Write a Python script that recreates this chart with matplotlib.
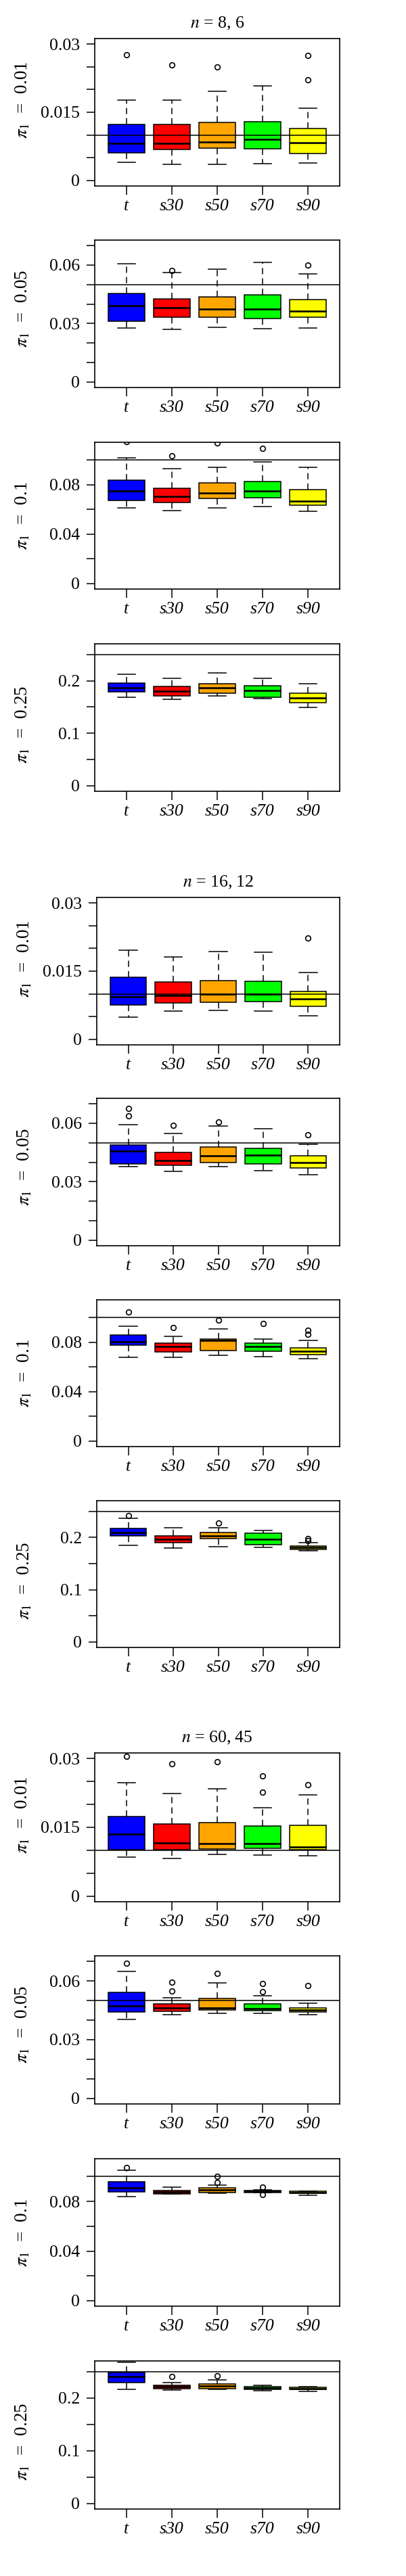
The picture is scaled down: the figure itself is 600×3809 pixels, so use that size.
import matplotlib
matplotlib.use('Agg')
import matplotlib.pyplot as plt

plt.rcParams['font.family'] = ['Liberation Serif', 'DejaVu Serif']
plt.rcParams['mathtext.fontset'] = 'stix'

# 방법 이름과 색상
methods = ['t', 's30', 's50', 's70', 's90']
box_colors = ['#0000FF', '#FF0000', '#FFA500', '#00FF00', '#FFFF00']

# 각 행: 방법 (t, s30, s50, s70, s90)
# 각 열: 아래 수염, Q1, 중앙값, Q3, 위 수염
box_n8_p01 = [[0.00405, 0.00603, 0.00816, 0.01226, 0.01774],
              [0.00361, 0.00682, 0.00816, 0.01236, 0.01774],
              [0.00361, 0.00712, 0.00845, 0.01270, 0.01962],
              [0.00366, 0.00692, 0.00909, 0.01285, 0.02081],
              [0.00390, 0.00598, 0.00835, 0.01147, 0.01591]]
out_n8_p01 = [[0.0276], [0.0254], [0.0250], [], [0.0275, 0.0222]]

box_n8_p05 = [[0.0277, 0.0312, 0.0391, 0.0453, 0.0607],
              [0.0269, 0.0331, 0.0380, 0.0425, 0.0560],
              [0.0282, 0.0333, 0.0375, 0.0438, 0.0578],
              [0.0275, 0.0324, 0.0375, 0.0446, 0.0613],
              [0.0276, 0.0331, 0.0364, 0.0422, 0.0554]]
out_n8_p05 = [[], [0.0571], [], [], [0.0599]]

box_n8_p10 = [[0.0611, 0.0675, 0.0749, 0.0835, 0.1018],
              [0.0591, 0.0656, 0.0704, 0.0769, 0.0929],
              [0.0615, 0.0691, 0.0735, 0.0813, 0.0944],
              [0.0624, 0.0696, 0.0749, 0.0827, 0.0985],
              [0.0584, 0.0635, 0.0669, 0.0762, 0.0942]]
out_n8_p10 = [[0.1148], [0.1036], [0.1138], [0.1095], []]

box_n8_p25 = [[0.1691, 0.1785, 0.1871, 0.1957, 0.2129],
              [0.1644, 0.1712, 0.1798, 0.1893, 0.2052],
              [0.1708, 0.1760, 0.1871, 0.1940, 0.2150],
              [0.1657, 0.1691, 0.1815, 0.1906, 0.2052],
              [0.1494, 0.1579, 0.1674, 0.1760, 0.1948]]
out_n8_p25 = [[], [], [], [], []]

box_n16_p01 = [[0.00482, 0.00755, 0.00934, 0.01371, 0.01962],
               [0.00626, 0.00805, 0.00964, 0.01257, 0.01808],
               [0.00636, 0.00815, 0.00993, 0.01286, 0.01937],
               [0.00616, 0.00834, 0.00993, 0.01277, 0.01912],
               [0.00512, 0.00725, 0.00889, 0.01048, 0.01465]]
out_n16_p01 = [[], [], [], [], [0.02235]]

box_n16_p05 = [[0.0377, 0.0393, 0.0456, 0.0489, 0.0593],
               [0.0355, 0.0383, 0.0408, 0.0451, 0.0547],
               [0.0377, 0.0397, 0.0434, 0.0478, 0.0585],
               [0.0357, 0.0392, 0.0435, 0.0470, 0.0572],
               [0.0337, 0.0371, 0.0399, 0.0432, 0.0492]]
out_n16_p05 = [[0.0677, 0.0639], [0.0590], [0.0608], [], [0.0541]]

box_n16_p10 = [[0.0679, 0.0776, 0.0802, 0.0857, 0.0930],
               [0.0676, 0.0720, 0.0765, 0.0791, 0.0851],
               [0.0694, 0.0736, 0.0815, 0.0829, 0.0906],
               [0.0685, 0.0727, 0.0765, 0.0791, 0.0827],
               [0.0668, 0.0700, 0.0727, 0.0758, 0.0815]]
out_n16_p10 = [[0.1043], [0.0919], [0.0979], [0.0950], [0.0900, 0.0864]]

box_n16_p25 = [[0.1845, 0.2030, 0.2095, 0.2176, 0.2366],
               [0.1794, 0.1905, 0.1961, 0.2034, 0.2185],
               [0.1819, 0.1974, 0.2034, 0.2095, 0.2189],
               [0.1811, 0.1867, 0.1970, 0.2077, 0.2133],
               [0.1746, 0.1776, 0.1815, 0.1841, 0.1905]]
out_n16_p25 = [[0.2422], [], [0.2271], [], [0.1974, 0.1940]]

box_n60_p01 = [[0.00859, 0.01021, 0.01352, 0.01732, 0.02472],
               [0.00824, 0.01012, 0.01164, 0.01574, 0.02240],
               [0.00918, 0.01031, 0.01150, 0.01609, 0.02344],
               [0.00893, 0.01041, 0.01150, 0.01525, 0.01929],
               [0.00883, 0.01021, 0.01071, 0.01540, 0.02201]]
out_n60_p01 = [[0.03044], [0.02877], [0.02926], [0.02625, 0.02265], [0.02428]]

box_n60_p05 = [[0.0404, 0.0441, 0.0472, 0.0540, 0.0647],
               [0.0426, 0.0446, 0.0463, 0.0483, 0.0514],
               [0.0433, 0.0451, 0.0463, 0.0509, 0.0590],
               [0.0435, 0.0447, 0.0458, 0.0483, 0.0526],
               [0.0428, 0.0440, 0.0453, 0.0463, 0.0485]]
out_n60_p05 = [[0.0689], [0.0594, 0.0550], [0.0637], [0.0585, 0.0545], [0.0576]]

box_n60_p10 = [[0.0840, 0.0878, 0.0907, 0.0956, 0.1053],
               [0.0858, 0.0863, 0.0878, 0.0890, 0.0914],
               [0.0867, 0.0874, 0.0892, 0.0907, 0.0934],
               [0.0871, 0.0874, 0.0883, 0.0890, 0.0894],
               [0.0852, 0.0865, 0.0874, 0.0881, 0.0883]]
out_n60_p10 = [[0.1071], [], [0.1003, 0.0952], [0.0916, 0.0854], []]

box_n60_p25 = [[0.2171, 0.2296, 0.2411, 0.2488, 0.2672],
               [0.2158, 0.2176, 0.2214, 0.2240, 0.2300],
               [0.2163, 0.2180, 0.2227, 0.2270, 0.2343],
               [0.2146, 0.2171, 0.2197, 0.2223, 0.2244],
               [0.2128, 0.2163, 0.2180, 0.2201, 0.2214]]
out_n60_p25 = [[], [0.2407], [0.2428], [], []]

# π1 값별 축 설정: 참값, 축 상한, 눈금 간격, 마지막 눈금, 라벨 붙는 눈금
pi_values = [0.01, 0.05, 0.1, 0.25]
y_tops = [0.03, 0.07, 0.11, 0.26]
y_steps = [0.005, 0.01, 0.02, 0.05]
y_last = [0.03, 0.07, 0.10, 0.25]
y_labels = [['0', '0.015', '0.03'], ['0', '0.03', '0.06'],
            ['0', '0.04', '0.08'], ['0', '0.1', '0.2']]

group_titles = ['8, 6', '16, 12', '60, 45']
group_boxes = [[box_n8_p01, box_n8_p05, box_n8_p10, box_n8_p25],
               [box_n16_p01, box_n16_p05, box_n16_p10, box_n16_p25],
               [box_n60_p01, box_n60_p05, box_n60_p10, box_n60_p25]]
group_outs = [[out_n8_p01, out_n8_p05, out_n8_p10, out_n8_p25],
              [out_n16_p01, out_n16_p05, out_n16_p10, out_n16_p25],
              [out_n60_p01, out_n60_p05, out_n60_p10, out_n60_p25]]

# 레이아웃 (픽셀)
W, H = 600, 3809
axes_px = [[(57, 275), (355, 573), (654, 871), (952, 1170)],
           [(1327, 1545), (1624, 1842), (1922, 2139), (2219, 2436)],
           [(2592, 2812), (2892, 3111), (3192, 3410), (3491, 3710)]]
axes_left = [140, 143, 140]
axes_right = 502
label_shift = [18, 8, 0, -10]

fig = plt.figure(figsize=(W / 100, H / 100), dpi=100)

for g in range(3):
    for p in range(4):
        top, bot = axes_px[g][p]
        ax = fig.add_axes([axes_left[g] / W, 1 - bot / H,
                           (axes_right - axes_left[g]) / W, (bot - top) / H])
        stats = []
        for i, row in enumerate(group_boxes[g][p]):
            stats.append(dict(whislo=row[0], q1=row[1], med=row[2], q3=row[3],
                              whishi=row[4], fliers=group_outs[g][p][i]))
        bp = ax.bxp(stats, positions=range(1, 6), widths=0.8, capwidths=0.4,
                    patch_artist=True, showfliers=True,
                    boxprops=dict(edgecolor='black', linewidth=1.1),
                    medianprops=dict(color='black', linewidth=1.9),
                    whiskerprops=dict(color='black', linewidth=1.1, linestyle=(0, (6, 4))),
                    capprops=dict(color='black', linewidth=1.1),
                    flierprops=dict(marker='o', markerfacecolor='none',
                                    markeredgecolor='black', markersize=5.5,
                                    markeredgewidth=1.2))
        for patch, c in zip(bp['boxes'], box_colors):
            patch.set_facecolor(c)

        ax.axhline(pi_values[p], color='black', linewidth=1.1, zorder=3)

        pad = y_tops[p] * 0.04
        ax.set_ylim(-pad, y_tops[p] + pad)
        ax.set_xlim(0.3, 5.7)
        n_ticks = int(round(y_last[p] / y_steps[p])) + 1
        ticks = [k * y_steps[p] for k in range(n_ticks)]
        labs = []
        for t in ticks:
            s = '%g' % round(t, 4)
            labs.append(s if s in y_labels[p] else '')
        ax.set_yticks(ticks)
        ax.set_yticklabels(labs)
        ax.set_xticks(range(1, 6))
        ax.set_xticklabels(methods, fontstyle='italic')
        ax.tick_params(axis='both', direction='out', length=9, width=1.1,
                       labelsize=18.5, colors='black')
        ax.tick_params(axis='y', pad=7)
        ax.tick_params(axis='x', pad=5)
        for sp in ax.spines.values():
            sp.set_linewidth(1.2)

        ax.text(-0.295, 0.5 + label_shift[p] / (bot - top),
                r'$\pi_1$  =  %g' % pi_values[p], transform=ax.transAxes,
                rotation=90, ha='center', va='center', fontsize=19.5)
        if p == 0:
            ax.set_title(r'$n$ = ' + group_titles[g], fontsize=18.5, pad=11)

fig.savefig('out.png', dpi=100)
